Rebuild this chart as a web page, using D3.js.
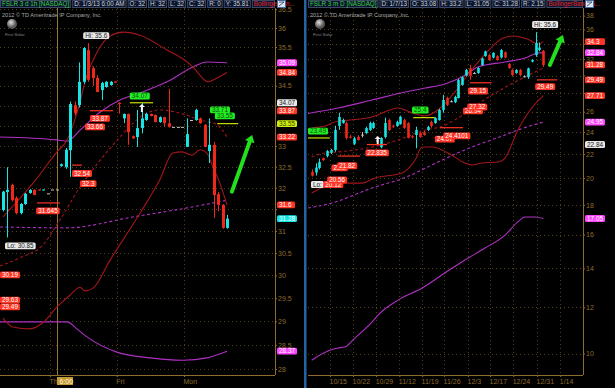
<!DOCTYPE html>
<html>
<head>
<meta charset="utf-8">
<script src="https://cdn.jsdelivr.net/npm/d3@7"></script>
<style>
  body { margin: 0; background: #000; }
  svg { display: block; }
</style>
</head>
<body>
<svg id="chart" width="615" height="388"></svg>
<script>
// ---------------------------------------------------------
// FSLR: 3 day / 1h chart (left) and 3 month / daily chart (right)
// ---------------------------------------------------------

// hourly bars [open, high, low, close]
const hourBars = [
  [31.48, 31.93, 31.45, 31.91], [31.90, 32.49, 30.85, 31.95], [32.07, 32.10, 31.68, 31.71],
  [31.76, 31.80, 31.38, 31.41], [31.41, 31.64, 31.38, 31.62], [31.62, 31.88, 31.60, 31.86],
  [31.88, 31.97, 31.86, 31.95], [31.95, 31.97, 31.83, 31.83], [31.96, 31.96, 31.94, 31.94],
  [31.94, 31.96, 31.94, 31.96], [31.87, 31.87, 31.87, 31.87], [31.96, 31.96, 31.96, 31.96],
  [31.96, 31.96, 31.96, 31.96], [32.52, 32.58, 32.50, 32.56], [32.49, 32.95, 32.45, 32.91],
  [32.90, 34.10, 32.26, 34.04], [34.01, 34.10, 33.75, 33.81], [34.01, 35.10, 33.95, 34.60],
  [34.60, 35.50, 34.55, 35.47], [35.42, 35.60, 34.60, 34.65], [34.95, 35.00, 34.50, 34.70],
  [34.70, 34.77, 34.34, 34.34], [34.39, 34.60, 34.14, 34.57], [34.47, 34.62, 34.45, 34.60],
  [34.52, 34.62, 34.50, 34.60], [34.61, 34.61, 34.58, 34.58], [34.07, 34.08, 33.80, 34.04],
  [33.68, 33.80, 33.56, 33.79], [33.79, 33.80, 33.03, 33.34], [33.24, 33.26, 33.17, 33.19],
  [33.22, 33.89, 32.98, 33.44], [33.44, 34.07, 33.31, 33.68], [33.64, 33.82, 33.62, 33.79],
  [33.79, 33.80, 33.73, 33.74], [33.76, 33.78, 33.58, 33.59], [33.59, 33.73, 33.57, 33.71],
  [33.71, 33.72, 33.47, 33.56], [33.56, 34.42, 33.45, 33.47], [33.47, 33.47, 33.47, 33.47],
  [33.47, 33.47, 33.47, 33.47], [33.47, 33.47, 33.47, 33.47], [32.98, 33.68, 32.98, 33.29],
  [33.64, 33.64, 33.64, 33.64], [33.64, 33.92, 33.62, 33.89], [33.68, 33.70, 33.55, 33.56],
  [33.52, 33.54, 32.97, 32.98], [32.88, 33.68, 32.59, 33.03], [33.03, 33.10, 31.30, 31.83],
  [31.85, 31.90, 31.45, 31.60], [31.60, 31.62, 31.05, 31.07], [31.07, 31.37, 31.05, 31.28]
];
const hourTicks = [28, 28.5, 29, 29.5, 30, 30.5, 31, 31.5, 32, 32.5, 33, 33.5, 34, 34.5, 35, 35.5, 36, 36.5];
const hourDayIdx = [10.5, 25.4, 40.4];
const hourDayLabels = ['Thu', 'Fri', 'Mon'];
const hourCursor = [12.05, '6:00'];

// study lines [bar index, value]
const hourUpper = [[0, 31.32], [6.7, 32.11], [12.05, 32.86], [14.3, 33.15], [16.5, 33.81], [18.75, 34.77],
  [21, 35.37], [23.9, 35.79], [26.8, 35.89], [30.6, 35.81], [36.6, 35.42], [41.1, 35.11], [42.4, 34.98],
  [45.8, 34.60], [47.8, 34.70], [50, 34.84]];
const hourMid = [[-0.7, 30.21], [3.8, 30.39], [8.9, 30.68], [12.7, 31.25], [17.2, 32.02], [21.7, 32.66],
  [26.1, 33.22], [31.25, 33.76], [35, 33.89], [39.5, 33.81], [44, 33.64], [47.8, 33.52], [50, 33.22]];
const hourLower = [[0, 29.07], [2.2, 28.88], [6, 28.84], [8.9, 28.97], [12.05, 29.31], [15, 29.57],
  [17.2, 29.74], [18.3, 29.66], [20.1, 29.72], [23.9, 30.34], [30.6, 31.41], [35, 32.19], [37.9, 32.83],
  [40, 32.86], [42.2, 32.78], [44, 32.91], [45.5, 32.83], [46.9, 32.49], [48.4, 32.11], [50, 31.60]];
const hourEnvUp = [[-0.7, 33.22], [12.05, 33.15], [14.3, 33.12], [17.2, 33.39], [21.7, 33.84], [26.1, 34.14],
  [30.6, 34.32], [36.6, 34.60], [42.4, 34.98], [45.5, 35.11], [50, 35.09]];
const hourEnvMid = [[-0.7, 31.09], [14.3, 31.07], [29, 31.32], [41.1, 31.53], [50, 31.71]];
const hourEnvLow = [[-0.7, 28.99], [14.3, 28.99], [16.5, 28.84], [18.75, 28.67], [25.4, 28.35], [32.8, 28.23],
  [40.2, 28.18], [45.5, 28.23], [50, 28.37]];

// bubbles [bar index, value, text, kind]
const hourNotes = [
  [17.9, 35.80, 'Hi: 35.6', 'w'], [0.45, 30.66, 'Lo: 30.85', 'w'],
  [18.3, 33.47, '33.66', 'r'], [19.4, 33.68, '33.87', 'r'],
  [15.4, 32.34, '32.54', 'r'], [17.2, 32.10, '32.3', 'r'], [7.4, 31.46, '31.645', 'r'],
  [-0.67, 30.01, '30.19', 'r'], [-0.67, 29.46, '29.63', 'r'], [-0.67, 29.31, '29.49', 'r'],
  [28.3, 34.24, '34.07', 'g'], [46.2, 33.89, '33.71', 'g'], [47.3, 33.74, '33.55', 'g']
];
// level marks [from index, to index, value, kind]
const hourMarks = [[19.4, 24.6, 33.87, 'r'], [15.4, 17.6, 32.54, 'r'], [7.6, 12.7, 31.645, 'r'],
  [28.3, 33.5, 34.07, 'y'], [47.8, 52.5, 33.55, 'y']];
const hourTags = [[35.09, 'm'], [34.84, 'r'], [34.07, 'w'], [33.87, 'r'], [33.55, 'y'], [33.22, 'r'],
  [31.6, 'r'], [31.28, 'c'], [28.37, 'm']];
const hourArrow = [[51.1, 31.91], [55.6, 33.27]];
const hourUp = [31, 33.94];
const hourHead = ['FSLR 3 d 1h [NASDAQ]', 'D: 1/3/13 6:00 AM', 'O: 32', 'H: 32', 'L: 32', 'C: 32',
  'R: 0', 'Y: 35.81', 'BollingerBan...'];

// daily bars [open, high, low, close]
const dayBars = [
  [20.49, 20.70, 20.12, 20.20], [20.45, 21.20, 20.20, 20.85], [20.81, 21.60, 20.70, 21.31],
  [21.65, 21.70, 21.40, 21.48], [21.82, 22.35, 21.70, 22.26], [22.10, 22.45, 22.00, 22.35],
  [22.35, 24.60, 22.20, 24.19], [24.57, 25.90, 24.20, 25.47], [24.86, 25.30, 24.80, 25.16],
  [24.86, 25.00, 23.30, 23.44], [23.55, 23.70, 23.40, 23.50], [22.90, 23.55, 22.80, 23.40],
  [23.53, 23.70, 23.20, 23.25], [23.75, 24.00, 23.50, 23.75], [23.90, 24.50, 23.80, 24.38],
  [24.19, 25.00, 24.10, 24.86], [24.38, 25.00, 24.30, 24.86], [23.20, 23.50, 22.80, 23.20],
  [22.60, 23.50, 22.50, 23.44], [23.53, 25.40, 23.40, 24.86], [25.16, 25.30, 24.10, 24.19],
  [24.60, 24.70, 24.40, 24.50], [24.57, 25.10, 24.50, 24.96], [24.77, 25.60, 24.70, 25.47],
  [25.16, 25.30, 24.30, 24.38], [24.86, 24.95, 23.40, 23.44], [23.60, 23.70, 23.40, 23.50],
  [23.72, 24.50, 22.50, 24.19], [23.90, 24.00, 23.45, 23.53], [23.99, 24.10, 23.65, 23.72],
  [24.19, 24.60, 24.10, 24.48], [24.96, 25.10, 24.40, 24.57], [24.86, 25.45, 24.80, 25.36],
  [25.16, 26.30, 25.10, 26.18], [26.18, 27.80, 25.90, 27.23], [27.45, 27.60, 26.60, 26.70],
  [27.10, 27.20, 27.00, 27.10], [27.00, 27.70, 26.90, 27.56], [27.45, 29.60, 27.40, 29.47],
  [28.90, 29.90, 28.80, 29.80], [30.00, 30.80, 29.90, 30.66], [30.86, 31.30, 29.50, 29.94],
  [30.30, 30.40, 30.20, 30.30], [30.30, 31.00, 30.20, 30.90], [31.27, 32.20, 31.20, 32.10],
  [32.40, 33.10, 32.30, 33.00], [32.53, 32.70, 31.80, 31.90], [32.20, 32.90, 32.10, 32.80],
  [32.40, 32.50, 31.80, 31.90], [32.20, 33.30, 32.10, 33.18], [32.90, 33.00, 32.10, 32.20],
  [31.40, 31.50, 30.80, 30.90], [30.66, 30.80, 29.95, 30.06], [30.30, 30.75, 30.20, 30.66],
  [30.66, 30.80, 29.95, 30.06], [29.90, 30.00, 29.80, 29.90], [29.80, 30.95, 29.60, 30.86],
  [31.70, 32.00, 31.60, 31.90], [32.53, 35.60, 32.30, 34.10], [33.18, 34.20, 33.00, 33.50],
  [33.08, 33.20, 31.05, 31.28]
];
const dayTicks = [10, 12, 14, 16, 18, 20, 22, 24, 26, 28, 30, 32, 34, 36, 38];
const dayWeekIdx = [4.74, 10.7, 16.7, 22.7, 28.6, 34.3, 40.5, 46.2, 52.2, 58.4, 64.4];
const dayWeekLabels = ['10/15', '10/22', '10/29', '11/12', '11/19', '11/26', '12/3', '12/17', '12/24', '12/31', '1/14'];

const dayUpper = [[0, 24.38], [3.4, 24.57], [6.8, 25.06], [9.9, 25.16], [15.6, 25.47], [22.4, 26.38],
  [26, 25.88], [29.4, 25.57], [33.3, 26.38], [37.1, 28.10], [41, 30.42], [45.4, 32.92], [49.6, 34.80],
  [52.2, 35.07], [55.8, 34.66], [58.7, 33.98], [60, 34.3]];
const dayMid = [[0, 21.74], [3.4, 22.09], [6.8, 22.18], [15.6, 22.61], [22.4, 23.25], [29.4, 24.19],
  [33.3, 24.48], [38.4, 25.47], [45.4, 27.45], [52.2, 29.13], [60, 30.90]];
const dayLower = [[0, 18.86], [6.8, 19.61], [13, 19.61], [16.4, 20.01], [23.4, 20.41], [26.8, 21.48],
  [28.6, 22.61], [31.2, 22.61], [35.3, 22.09], [39.7, 21.23], [41.5, 21.06], [44.1, 21.23], [48.3, 21.31],
  [50.1, 21.65], [53.4, 24.19], [56.6, 26.18], [60, 27.71]];
const dayEnvUp = [[-1.7, 25.77], [6.8, 26.38], [15.6, 27.23], [24.2, 28.10], [29.4, 28.55], [34.5, 29.02],
  [38.9, 29.82], [43.1, 31.03], [50.1, 31.65], [55.3, 32.16], [58.6, 32.80], [60, 32.84]];
const dayEnvMid = [[-1, 17.77], [5.3, 18.13], [15.6, 19.23], [24.2, 20.05], [32.7, 21.31], [41.5, 22.61],
  [50.1, 23.72], [53.4, 24.19], [60, 24.95]];
const dayEnvLow = [[0, 9.74], [4.2, 10.10], [6.8, 10.22], [8.6, 10.26], [11.2, 10.63], [15.6, 11.32],
  [17.2, 11.64], [22.4, 12.35], [28.6, 12.95], [34.5, 13.75], [39.7, 14.47], [44.9, 15.17], [50.1, 15.97],
  [53.4, 16.82], [55.3, 17.15], [57.8, 17.15], [60, 17.05]];

const dayNotes = [
  [57.1, 36.70, 'Hi: 35.6', 'w'], [-0.2, 19.50, 'Lo:', 'w'], [3.0, 19.50, '20.12', 'r'],
  [-0.96, 24.09, '23.49', 'g'], [26.0, 26.18, '25.4', 'g'],
  [13.9, 22.09, '22.835', 'r'], [5.1, 20.83, '21.2', 'r'], [6.6, 21.0, '21.82', 'r'],
  [4.0, 19.85, '20.56', 'r'], [40.5, 28.22, '29.15', 'r'], [39.2, 26.08, '26.94', 'r'],
  [40.3, 26.49, '27.32', 'r'], [31.9, 23.34, '24.07', 'r'], [34.1, 23.63, '24.4101', 'r'],
  [57.9, 28.7, '29.49', 'r']
];
const dayMarks = [[-0.96, 4.7, 23.44, 'y'], [26.3, 31.9, 25.4, 'y'], [14.3, 19.5, 22.835, 'r'],
  [6.8, 12.5, 21.82, 'r'], [41, 46.6, 29.15, 'r'], [33.2, 39.2, 24.41, 'r'], [58.4, 63.6, 29.49, 'r']];
const dayTags = [[34.3, 'r'], [32.84, 'm'], [31.28, 'r'], [29.49, 'r'], [27.71, 'r'], [24.95, 'm'],
  [22.84, 'w'], [17.05, 'm']];
const dayArrow = [[61.7, 31.27], [65.1, 35.21]];
const dayUp = [17.1, 23.25];
const dayHead = ['FSLR 3 m D [NASDAQ]', 'D: 1/7/13', 'O: 33.08', 'H: 33.2', 'L: 31.05', 'C: 31.28',
  'R: 2.15', 'BollingerBandsS...'];

// ---------------------------------------------------------
const W = 615, H = 388;
const FONT = '"Liberation Sans", Arial, sans-serif';
const TAN = '#8e6c2e', GRID = '#54401a';
const CYAN = '#19e4e4', RED = '#f0281a', DOJI = '#c4c4c4';
const BAND = '#a3161a', MAG = '#b030c4';
const KIND = {
  r: ['#ff3424', '#ffffff'], m: ['#ff45ff', '#ffffff'], w: ['#e8e8e8', '#202020'],
  y: ['#ccee10', '#404000'], c: ['#10e6e6', '#ffffff'], g: ['#22ec22', '#0a5010']
};

const svg = d3.select('#chart');
svg.append('rect').attr('width', W).attr('height', H).attr('fill', '#000');
const defs = svg.append('defs');
const grad = defs.append('radialGradient').attr('id', 'logo').attr('cx', '40%').attr('cy', '35%');
grad.append('stop').attr('offset', '0%').attr('stop-color', '#e0e0e0');
grad.append('stop').attr('offset', '100%').attr('stop-color', '#555');

function bubble(g, x0, yc, text, kind, minW) {
  const [bg, fg] = KIND[kind];
  const t = g.append('text').attr('x', x0 + 2).attr('y', yc).attr('dy', '0.36em')
    .attr('fill', fg).style('font', `6.4px ${FONT}`).text(text);
  const w = Math.max(minW || 0, t.node().getComputedTextLength() + 4);
  g.insert('rect', () => t.node())
    .attr('x', x0).attr('y', yc - 3.4).attr('width', w).attr('height', 6.8)
    .attr('rx', 1.5).attr('fill', bg);
}

function panel(p) {
  const g = svg.append('g');
  const x = d3.scaleLinear().domain([0, p.bars.length - 1]).range(p.xRange);
  const y = d3.scaleLog().domain(p.yDomain).range(p.yRange);

  defs.append('clipPath').attr('id', 'clip' + p.id).append('rect')
    .attr('x', p.left).attr('y', p.top).attr('width', p.axisX - p.left).attr('height', p.bottom - p.top);

  // dotted grid
  const grid = g.append('g').attr('stroke', GRID).attr('stroke-dasharray', '1 3');
  grid.selectAll('line.h').data(p.yTicks.filter(v => y(v) > p.top && y(v) < p.bottom)).join('line')
    .attr('class', 'h')
    .attr('x1', p.left).attr('x2', p.axisX - 2)
    .attr('y1', d => Math.round(y(d)) + 0.5).attr('y2', d => Math.round(y(d)) + 0.5);
  grid.selectAll('line.v').data(p.xTicks).join('line')
    .attr('class', 'v')
    .attr('x1', d => Math.round(x(d)) + 0.5).attr('x2', d => Math.round(x(d)) + 0.5)
    .attr('y1', p.top).attr('y2', p.bottom);

  // axes
  const ya = g.append('g').attr('transform', `translate(${p.axisX},0)`)
    .call(d3.axisRight(y).tickValues(p.yTicks).tickSize(2).tickPadding(1).tickFormat(d => d));
  ya.select('.domain').remove();
  ya.selectAll('line').attr('stroke', TAN);
  ya.selectAll('text').attr('fill', TAN).style('font', `7px ${FONT}`);
  // tick labels that sit under a price tag are hidden in the original
  ya.selectAll('.tick').filter(d => p.tags.some(t => Math.abs(y(t[0]) - y(d)) < 4.5))
    .select('text').remove();

  const xa = g.append('g').attr('transform', `translate(0,${p.bottom})`)
    .call(d3.axisBottom(x).tickValues(p.xTicks).tickSize(2).tickPadding(2)
      .tickFormat((d, i) => p.xLabels[i]));
  xa.select('.domain').remove();
  xa.selectAll('line').attr('stroke', TAN);
  xa.selectAll('text').attr('fill', TAN).attr('text-anchor', 'start').attr('x', -1)
    .style('font', `7px ${FONT}`);

  g.append('line').attr('x1', p.axisX + 0.5).attr('x2', p.axisX + 0.5)
    .attr('y1', p.top).attr('y2', p.bottom).attr('stroke', TAN);
  g.append('line').attr('x1', p.left).attr('x2', p.axisX)
    .attr('y1', p.bottom + 0.5).attr('y2', p.bottom + 0.5).attr('stroke', TAN);

  const plot = g.append('g').attr('clip-path', `url(#clip${p.id})`);

  if (p.cursor) {
    plot.append('line').attr('x1', Math.round(x(p.cursor[0])) + 0.5).attr('x2', Math.round(x(p.cursor[0])) + 0.5)
      .attr('y1', p.top).attr('y2', p.bottom).attr('stroke', '#9a7630');
  }

  // studies
  const line = d3.line().x(d => x(d[0])).y(d => y(d[1])).curve(d3.curveMonotoneX);
  const studies = [
    [p.envUp, MAG, null], [p.envMid, MAG, '3 2.5'], [p.envLow, MAG, null],
    [p.upper, BAND, null], [p.mid, BAND, '3 2.5'], [p.lower, BAND, null]
  ];
  plot.selectAll('path.study').data(studies).join('path')
    .attr('class', 'study')
    .attr('d', d => line(d[0]))
    .attr('fill', 'none').attr('stroke', d => d[1]).attr('stroke-width', 1.1)
    .attr('stroke-dasharray', d => d[2]);

  // candles
  const colour = d => d[3] > d[0] ? CYAN : d[3] < d[0] ? RED : DOJI;
  const c = plot.selectAll('g.bar').data(p.bars).join('g').attr('class', 'bar');
  c.append('line')
    .attr('x1', (d, i) => Math.round(x(i)) + 0.5).attr('x2', (d, i) => Math.round(x(i)) + 0.5)
    .attr('y1', d => y(d[1])).attr('y2', d => y(d[2]))
    .attr('stroke', colour).attr('stroke-width', 1);
  c.append('rect')
    .attr('x', (d, i) => Math.round(x(i)) + 0.5 - p.bw / 2)
    .attr('y', d => Math.min(y(d[0]), y(d[3])))
    .attr('width', p.bw)
    .attr('height', d => Math.max(1, Math.abs(y(d[0]) - y(d[3]))))
    .attr('fill', colour);

  // level marks and bubbles
  const kcol = k => k === 'y' ? '#c8e000' : '#ff3424';
  g.selectAll('line.mark').data(p.marks).join('line').attr('class', 'mark')
    .attr('x1', d => x(d[0])).attr('x2', d => x(d[1]))
    .attr('y1', d => y(d[2])).attr('y2', d => y(d[2]))
    .attr('stroke', d => kcol(d[3])).attr('stroke-width', 1.2);
  const notes = g.append('g');
  p.notes.forEach(n => bubble(notes, x(n[0]), y(n[1]), n[2], n[3]));

  // white up arrow
  const ux = x(p.up[0]), uy = y(p.up[1]);
  g.append('path')
    .attr('d', `M${ux},${uy - 4}L${ux + 3},${uy - 1}L${ux + 1},${uy - 1}L${ux + 1},${uy + 4}L${ux - 1},${uy + 4}L${ux - 1},${uy - 1}L${ux - 3},${uy - 1}Z`)
    .attr('fill', '#f4f4f4');

  // green drawn arrow
  const a0 = [x(p.arrow[0][0]), y(p.arrow[0][1])], a1 = [x(p.arrow[1][0]), y(p.arrow[1][1])];
  const ang = Math.atan2(a1[1] - a0[1], a1[0] - a0[0]);
  const back = [a1[0] - 7 * Math.cos(ang), a1[1] - 7 * Math.sin(ang)];
  g.append('line').attr('x1', a0[0]).attr('y1', a0[1]).attr('x2', back[0]).attr('y2', back[1])
    .attr('stroke', '#22e01e').attr('stroke-width', 4).attr('stroke-linecap', 'round');
  const nx = -Math.sin(ang), ny = Math.cos(ang);
  g.append('path')
    .attr('d', `M${a1[0]},${a1[1]}L${back[0] + 5 * nx},${back[1] + 5 * ny}L${back[0] - 5 * nx},${back[1] - 5 * ny}Z`)
    .attr('fill', '#22e01e');

  // price tags on the axis
  const tags = g.append('g');
  p.tags.forEach(t => bubble(tags, p.axisX + 2, y(t[0]), String(t[0]), t[1], p.tagW));

  if (p.cursor) {
    const cx = Math.round(x(p.cursor[0]));
    g.append('rect').attr('x', cx).attr('y', p.bottom + 2).attr('width', 16).attr('height', 8)
      .attr('fill', '#c39a36');
    g.append('text').attr('x', cx + 2.5).attr('y', p.bottom + 6).attr('dy', '0.36em')
      .attr('fill', '#fff4c8').style('font', `7px ${FONT}`).text(p.cursor[1]);
  }

  // copyright and logo
  g.append('text').attr('x', p.left + 2).attr('y', 15).attr('dy', '0.36em')
    .attr('fill', '#a8a8a8').style('font', `5.6px ${FONT}`).text('2012 © TD Ameritrade IP Company, Inc.');
  g.append('circle').attr('cx', p.left + 12).attr('cy', 24).attr('r', 5).attr('fill', 'url(#logo)');
  g.append('text').attr('x', p.left + 5).attr('y', 34).attr('dy', '0.36em')
    .attr('fill', '#8a8a8a').style('font', `4.3px ${FONT}`).text('First Solar');

  // header strip
  const hg = svg.append('g');
  let hx = p.left;
  p.head.forEach((txt, i) => {
    const last = i === p.head.length - 1;
    const t = hg.append('text').attr('x', hx + 2).attr('y', 3.8).attr('dy', '0.36em')
      .attr('fill', i === 0 ? '#3ccc3c' : last ? '#e2262a' : '#cfcfcf')
      .style('font', `6.3px ${FONT}`).text(txt);
    const w = last ? p.axisX - hx : t.node().getComputedTextLength() + 4;
    hg.insert('rect', () => t.node()).attr('x', hx + 0.5).attr('y', 0.5)
      .attr('width', w - 1).attr('height', 7).attr('fill', '#0a1630').attr('stroke', '#3e4864');
    hx += w + 1;
  });
  hg.append('rect').attr('x', p.axisX + 2.5).attr('y', 0.5).attr('width', 8).attr('height', 7)
    .attr('fill', '#dfe6ee').attr('stroke', '#4a6a9a');
  hg.append('path').attr('d', `M${p.axisX + 4},${6}L${p.axisX + 9},${2}M${p.axisX + 4},${2}L${p.axisX + 9},${2}`)
    .attr('stroke', '#1a3a6a').attr('stroke-width', 0.8);
}

panel({
  id: 'h', bars: hourBars, left: 0, axisX: 275, top: 8, bottom: 375,
  xRange: [3, 227], yDomain: [28, 36], yRange: [369, 28], bw: 3,
  yTicks: hourTicks, xTicks: hourDayIdx, xLabels: hourDayLabels, cursor: hourCursor,
  upper: hourUpper, mid: hourMid, lower: hourLower,
  envUp: hourEnvUp, envMid: hourEnvMid, envLow: hourEnvLow,
  notes: hourNotes, marks: hourMarks, tags: hourTags, tagW: 18,
  arrow: hourArrow, up: hourUp, head: hourHead
});

panel({
  id: 'd', bars: dayBars, left: 308, axisX: 583, top: 8, bottom: 375,
  xRange: [311.7, 543.3], yDomain: [10, 38], yRange: [353.5, 15.7], bw: 2.6,
  yTicks: dayTicks, xTicks: dayWeekIdx, xLabels: dayWeekLabels, cursor: null,
  upper: dayUpper, mid: dayMid, lower: dayLower,
  envUp: dayEnvUp, envMid: dayEnvMid, envLow: dayEnvLow,
  notes: dayNotes, marks: dayMarks, tags: dayTags, tagW: 20,
  arrow: dayArrow, up: dayUp, head: dayHead
});

// blue divider between the two charts
svg.append('rect').attr('x', 304).attr('y', 0).attr('width', 2.5).attr('height', H).attr('fill', '#2563a6');
</script>
</body>
</html>
